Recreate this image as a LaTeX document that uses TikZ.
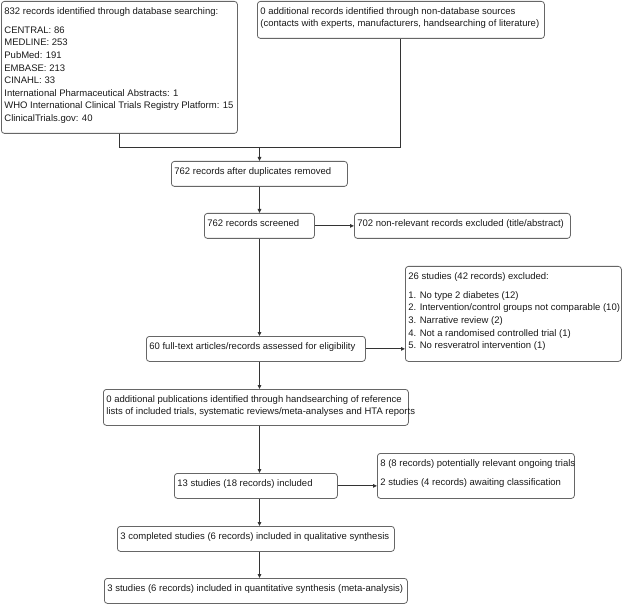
\documentclass[tikz,border=0pt]{standalone}
\usepackage{fontspec}
\setmainfont{Liberation Sans}
\usetikzlibrary{arrows.meta}

% box text: width, height, lines (top aligned, no wrapping)
\newcommand{\flowtxt}[3]{\parbox[t][#2pt][t]{\dimexpr#1pt-6pt\relax}{\vspace*{4pt}\begin{tabular}[t]{@{}l@{}}#3\end{tabular}}}

\begin{document}
\begin{tikzpicture}
% PRISMA flow chart, coordinates in pixels of the 635x604 layout
\providecommand{\prismaBoxColor}{black!60}
\providecommand{\prismaLineColor}{black!80}
\providecommand{\prismaTextColor}{black!90}
\providecommand{\prismaBoxLineWidth}{0.8pt}
\providecommand{\prismaArrowLineWidth}{0.9pt}
\begin{scope}[x=1pt, y=-1pt,
  flowbox/.style={draw=\prismaBoxColor, line width=\prismaBoxLineWidth, rounded corners=3pt,
    inner xsep=3pt, inner ysep=0pt, anchor=north west, text=\prismaTextColor,
    font=\fontsize{9.5}{12.6}\selectfont},
  flowline/.style={draw=\prismaLineColor, line width=\prismaArrowLineWidth},
  flowarrow/.style={flowline, -{Triangle[length=4pt,width=3.5pt]}}]
  \useasboundingbox (0,0) rectangle (635,604);
  % Identification
  \node[flowbox] (db) at (1,1) {\flowtxt{236}{132}{832 records identified through database searching:\\[6.5pt]
    CENTRAL: 86\\
    MEDLINE: 253\\
    PubMed: 191\\
    EMBASE: 213\\
    CINAHL: 33\\
    International Pharmaceutical Abstracts: 1\\
    WHO International Clinical Trials Registry Platform: 15\\
    ClinicalTrials.gov: 40}};
  \node[flowbox] (other) at (257,1) {\flowtxt{287}{37}{0 additional records identified through non-database sources\\
    (contacts with experts, manufacturers, handsearching of literature)}};
  % Screening
  \node[flowbox] (dup) at (171,161) {\flowtxt{176}{25}{762 records after duplicates removed}};
  \node[flowbox] (screen) at (204,213) {\flowtxt{110}{25}{762 records screened}};
  \node[flowbox] (nonrel) at (354,213) {\flowtxt{216}{25}{702 non-relevant records excluded (title/abstract)}};
  % Eligibility
  \node[flowbox] (fulltext) at (146,336) {\flowtxt{219}{25}{60 full-text articles/records assessed for eligibility}};
  \node[flowbox] (excluded) at (405,266) {\flowtxt{216}{95}{26 studies (42 records) excluded:\\[6.5pt]
    1. No type 2 diabetes (12)\\
    2. Intervention/control groups not comparable (10)\\
    3. Narrative review (2)\\
    4. Not a randomised controlled trial (1)\\
    5. No resveratrol intervention (1)}};
  \node[flowbox] (handsearch) at (103,389) {\flowtxt{305}{36}{0 additional publications identified through handsearching of reference\\
    lists of included trials, systematic reviews/meta-analyses and HTA reports}};
  % Included
  \node[flowbox] (included) at (174,473) {\flowtxt{163}{25}{13 studies (18 records) included}};
  \node[flowbox] (ongoing) at (377,453) {\flowtxt{197}{45}{8 (8 records) potentially relevant ongoing trials\\[6.5pt]
    2 studies (4 records) awaiting classification}};
  \node[flowbox] (qual) at (117,526) {\flowtxt{277}{25}{3 completed studies (6 records) included in qualitative synthesis}};
  \node[flowbox] (quant) at (104,578) {\flowtxt{303}{25}{3 studies (6 records) included in quantitative synthesis (meta-analysis)}};
  % Connectors
  \coordinate (join) at (259.5,147);
  \draw[flowline] (db.south) |- (join);
  \draw[flowline] (other.south) |- (join);
  \draw[flowarrow] (join) -- (dup.north -| join);
  \draw[flowarrow] (dup.south -| join) -- (screen.north -| join);
  \draw[flowarrow] (screen.east) -- (nonrel.west);
  \draw[flowarrow] (screen.south -| join) -- (fulltext.north -| join);
  \draw[flowarrow] (fulltext.east) -- (fulltext.east -| excluded.west);
  \draw[flowarrow] (fulltext.south -| join) -- (handsearch.north -| join);
  \draw[flowarrow] (handsearch.south -| join) -- (included.north -| join);
  \draw[flowarrow] (included.east) -- (included.east -| ongoing.west);
  \draw[flowarrow] (included.south -| join) -- (qual.north -| join);
  \draw[flowarrow] (qual.south -| join) -- (quant.north -| join);
\end{scope}
\end{tikzpicture}
\end{document}
